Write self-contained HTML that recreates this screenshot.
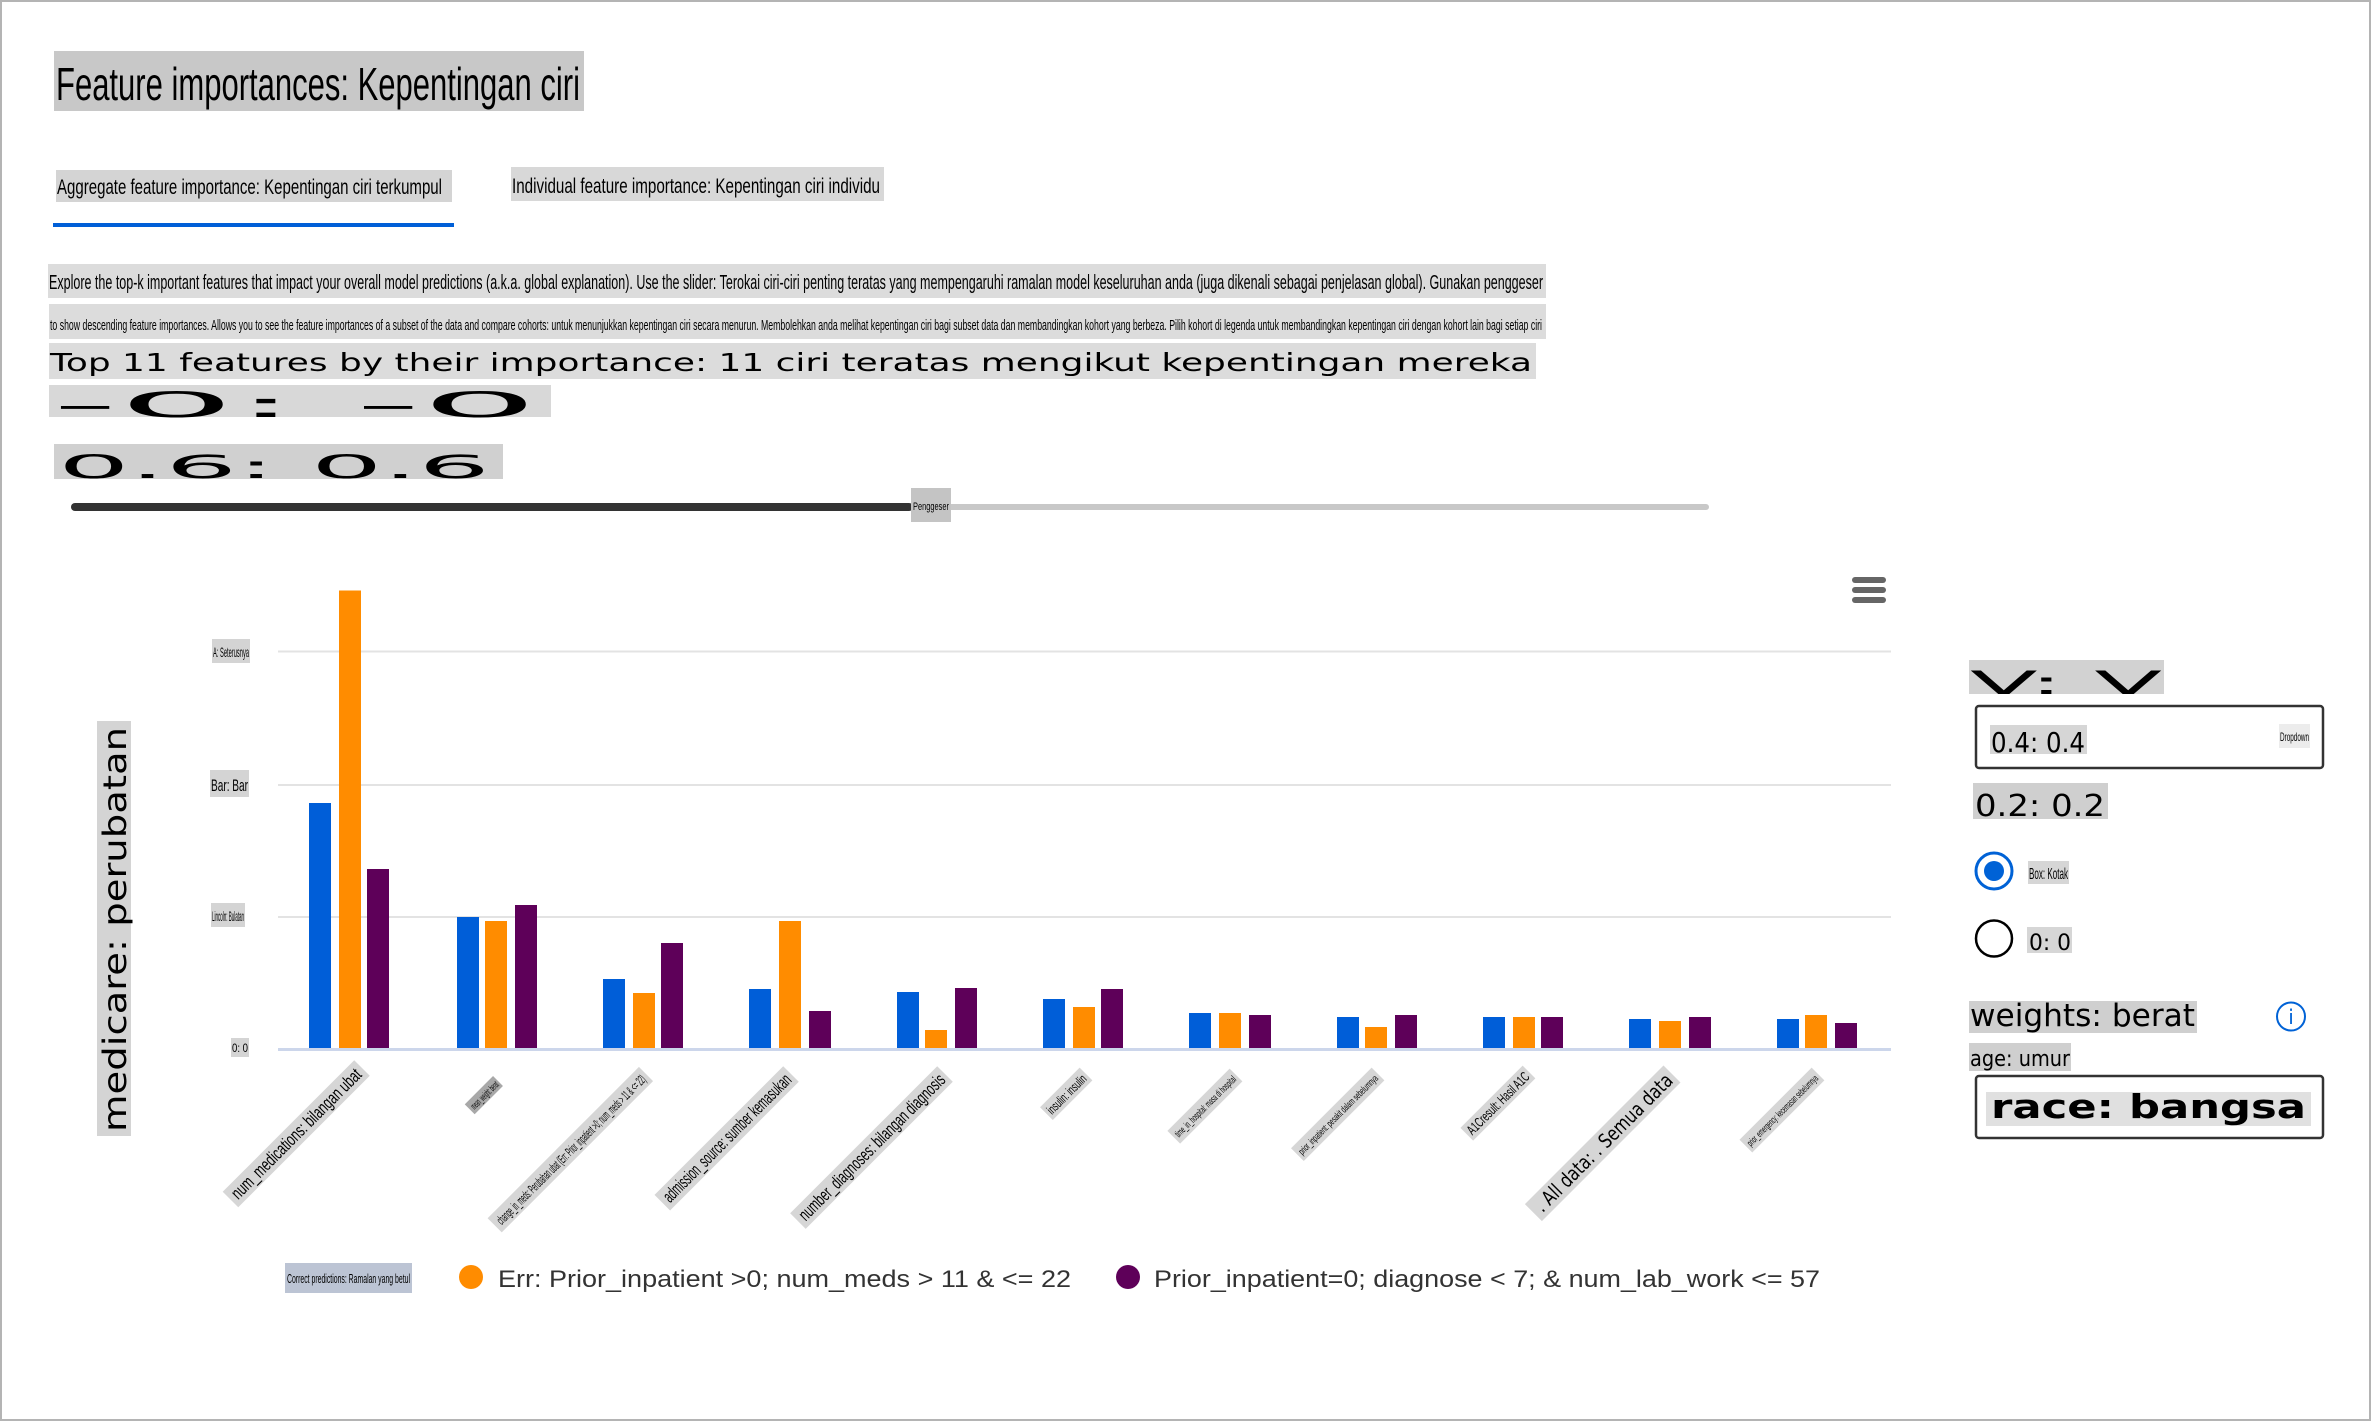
<!DOCTYPE html>
<html><head><meta charset="utf-8"><style>html,body{margin:0;padding:0;background:#fff;overflow:hidden}svg{display:block}
.n{font-family:"Liberation Sans",sans-serif;fill:#000}
.w{font-family:"DejaVu Sans","Liberation Sans",sans-serif;fill:#000}
</style></head><body>
<svg width="2371" height="1421" viewBox="0 0 2371 1421" xmlns="http://www.w3.org/2000/svg">
<rect x="0" y="0" width="2371" height="1421" fill="#fff"/>
<rect x="1" y="1" width="2369" height="1419" fill="none" stroke="#b4b4b4" stroke-width="2"/>

<!-- Title -->
<rect x="54" y="51" width="530" height="60" fill="#c8c8c8"/>
<text class="n" x="56" y="100" font-size="46" textLength="524" lengthAdjust="spacingAndGlyphs">Feature importances: Kepentingan ciri</text>

<!-- Tabs -->
<rect x="56" y="170" width="396" height="32" fill="#d4d4d4"/>
<text class="n" x="57" y="194" font-size="21" textLength="385" lengthAdjust="spacingAndGlyphs">Aggregate feature importance: Kepentingan ciri terkumpul</text>
<rect x="511" y="167" width="373" height="34" fill="#d8d8d8"/>
<text class="n" x="512" y="193" font-size="21" textLength="368" lengthAdjust="spacingAndGlyphs">Individual feature importance: Kepentingan ciri individu</text>
<rect x="53" y="223" width="401" height="4" fill="#005fd7"/>

<!-- Description -->
<rect x="48" y="264" width="1498" height="34" fill="#dcdcdc"/>
<text class="n" x="49" y="289" font-size="20" textLength="1494" lengthAdjust="spacingAndGlyphs">Explore the top-k important features that impact your overall model predictions (a.k.a. global explanation). Use the slider: Terokai ciri-ciri penting teratas yang mempengaruhi ramalan model keseluruhan anda (juga dikenali sebagai penjelasan global). Gunakan penggeser</text>
<rect x="49" y="304" width="1497" height="35" fill="#dcdcdc"/>
<text class="n" x="50" y="330" font-size="15" textLength="1492" lengthAdjust="spacingAndGlyphs">to show descending feature importances. Allows you to see the feature importances of a subset of the data and compare cohorts: untuk menunjukkan kepentingan ciri secara menurun. Membolehkan anda melihat kepentingan ciri bagi subset data dan membandingkan kohort yang berbeza. Pilih kohort di legenda untuk membandingkan kepentingan ciri dengan kohort lain bagi setiap ciri</text>

<!-- Top 11 -->
<rect x="49" y="343" width="1487" height="36" fill="#dcdcdc"/>
<text class="w" x="50" y="371" font-size="25" textLength="1482" lengthAdjust="spacingAndGlyphs">Top 11 features by their importance: 11 ciri teratas mengikut kepentingan mereka</text>

<rect x="49" y="385" width="502" height="32" fill="#d8d8d8"/>
<text class="w" x="52" y="417" font-size="35" textLength="486" lengthAdjust="spacingAndGlyphs">-0: -0</text>

<rect x="54" y="444" width="449" height="35" fill="#d0d0d0"/>
<text class="w" x="58" y="478" font-size="32" textLength="432" lengthAdjust="spacingAndGlyphs">0.6: 0.6</text>

<!-- Slider -->
<rect x="71" y="503" width="842" height="8" rx="4" fill="#333"/>
<rect x="948" y="504" width="761" height="6" rx="3" fill="#c8c8c8"/>
<rect x="911" y="488" width="40" height="34" fill="#c4c4c4"/>
<text class="n" x="913" y="510" font-size="11" textLength="36" lengthAdjust="spacingAndGlyphs">Penggeser</text>

<!-- Y axis title -->
<g transform="translate(126,1136) rotate(-90)">
<rect x="0" y="-29" width="415" height="34" fill="#d4d4d4"/>
<text class="w" x="4" y="0" font-size="32" textLength="405" lengthAdjust="spacingAndGlyphs">medicare: perubatan</text>
</g>

<!-- Y tick labels -->
<rect x="212" y="639" width="38" height="24" fill="#d4d4d4"/>
<text class="n" x="213" y="657" font-size="14" textLength="36" lengthAdjust="spacingAndGlyphs">A: Seterusnya</text>
<rect x="210" y="770" width="39" height="27" fill="#d4d4d4"/>
<text class="n" x="211" y="791" font-size="17" textLength="37" lengthAdjust="spacingAndGlyphs">Bar: Bar</text>
<rect x="211" y="903" width="34" height="24" fill="#d4d4d4"/>
<text class="n" x="212" y="921" font-size="14" textLength="32" lengthAdjust="spacingAndGlyphs">Lincoln: Bulatan</text>
<rect x="231" y="1038" width="18" height="19" fill="#d4d4d4"/>
<text class="n" x="232" y="1052" font-size="12" textLength="16" lengthAdjust="spacingAndGlyphs">0: 0</text>

<!-- Gridlines -->
<g stroke="#e3e3e3" stroke-width="2">
<line x1="278" y1="651.5" x2="1891" y2="651.5"/>
<line x1="278" y1="785" x2="1891" y2="785"/>
<line x1="278" y1="917" x2="1891" y2="917"/>
</g>

<!-- Bars -->
<g fill="#005ed8">
<rect x="309" y="803" width="22" height="245"/>
<rect x="457" y="917" width="22" height="131"/>
<rect x="603" y="979" width="22" height="69"/>
<rect x="749" y="989" width="22" height="59"/>
<rect x="897" y="992" width="22" height="56"/>
<rect x="1043" y="999" width="22" height="49"/>
<rect x="1189" y="1013" width="22" height="35"/>
<rect x="1337" y="1017" width="22" height="31"/>
<rect x="1483" y="1017" width="22" height="31"/>
<rect x="1629" y="1019" width="22" height="29"/>
<rect x="1777" y="1019" width="22" height="29"/>
</g>
<g fill="#ff8c00">
<rect x="339" y="590.5" width="22" height="457.5"/>
<rect x="485" y="921" width="22" height="127"/>
<rect x="633" y="993" width="22" height="55"/>
<rect x="779" y="921" width="22" height="127"/>
<rect x="925" y="1030" width="22" height="18"/>
<rect x="1073" y="1007" width="22" height="41"/>
<rect x="1219" y="1013" width="22" height="35"/>
<rect x="1365" y="1027" width="22" height="21"/>
<rect x="1513" y="1017" width="22" height="31"/>
<rect x="1659" y="1021" width="22" height="27"/>
<rect x="1805" y="1015" width="22" height="33"/>
</g>
<g fill="#5e0059">
<rect x="367" y="869" width="22" height="179"/>
<rect x="515" y="905" width="22" height="143"/>
<rect x="661" y="943" width="22" height="105"/>
<rect x="809" y="1011" width="22" height="37"/>
<rect x="955" y="988" width="22" height="60"/>
<rect x="1101" y="989" width="22" height="59"/>
<rect x="1249" y="1015" width="22" height="33"/>
<rect x="1395" y="1015" width="22" height="33"/>
<rect x="1541" y="1017" width="22" height="31"/>
<rect x="1689" y="1017" width="22" height="31"/>
<rect x="1835" y="1023" width="22" height="25"/>
</g>
<line x1="278" y1="1049.5" x2="1891" y2="1049.5" stroke="#ccd6eb" stroke-width="3"/>

<!-- Hamburger -->
<g fill="#666">
<rect x="1852" y="577" width="34" height="6" rx="3"/>
<rect x="1852" y="587" width="34" height="6" rx="3"/>
<rect x="1852" y="597" width="34" height="6" rx="3"/>
</g>

<!-- X labels -->
<g transform="translate(362,1068) rotate(-45)">
<rect x="-186" y="-11" width="186" height="22" fill="#d6d6d6"/>
<text class="n" x="-5" y="6" text-anchor="end" font-size="18" textLength="176" lengthAdjust="spacingAndGlyphs">num_medications: bilangan ubat</text>
</g>
<g transform="translate(498,1081) rotate(-45)">
<rect x="-40" y="-7" width="40" height="14" fill="#a8a8a8"/>
<text class="n" x="-2" y="4" text-anchor="end" font-size="10" textLength="35" lengthAdjust="spacingAndGlyphs">mean_weight: berat</text>
</g>
<g transform="translate(646,1074) rotate(-45)">
<rect x="-214" y="-10" width="214" height="20" fill="#d6d6d6"/>
<text class="n" x="-4" y="5" text-anchor="end" font-size="13" textLength="205" lengthAdjust="spacingAndGlyphs">change_in_meds: Perubahan ubat (Err: Prior_inpatient &gt;0; num_meds &gt; 11 &amp; &lt;= 22)</text>
</g>
<g transform="translate(791,1074) rotate(-45)">
<rect x="-182" y="-11" width="182" height="22" fill="#d6d6d6"/>
<text class="n" x="-4" y="6" text-anchor="end" font-size="18" textLength="173" lengthAdjust="spacingAndGlyphs">admission_source: sumber kemasukan</text>
</g>
<g transform="translate(945,1074) rotate(-45)">
<rect x="-208" y="-11" width="208" height="22" fill="#d6d6d6"/>
<text class="n" x="-4" y="6" text-anchor="end" font-size="18" textLength="199" lengthAdjust="spacingAndGlyphs">number_diagnoses: bilangan diagnosis</text>
</g>
<g transform="translate(1086,1074) rotate(-45)">
<rect x="-56" y="-9" width="56" height="18" fill="#d6d6d6"/>
<text class="n" x="-3" y="5" text-anchor="end" font-size="13" textLength="50" lengthAdjust="spacingAndGlyphs">insulin: insulin</text>
</g>
<g transform="translate(1236,1075) rotate(-45)">
<rect x="-88" y="-9" width="88" height="18" fill="#d6d6d6"/>
<text class="n" x="-3" y="4" text-anchor="end" font-size="10" textLength="82" lengthAdjust="spacingAndGlyphs">time_in_hospital: masa di hospital</text>
</g>
<g transform="translate(1378,1074) rotate(-45)">
<rect x="-114" y="-9" width="114" height="18" fill="#d6d6d6"/>
<text class="n" x="-3" y="4" text-anchor="end" font-size="10" textLength="108" lengthAdjust="spacingAndGlyphs">prior_inpatient: pesakit dalam sebelumnya</text>
</g>
<g transform="translate(1529,1072) rotate(-45)">
<rect x="-88" y="-9" width="88" height="18" fill="#d6d6d6"/>
<text class="n" x="-3" y="5" text-anchor="end" font-size="14" textLength="82" lengthAdjust="spacingAndGlyphs">A1Cresult: Hasil A1C</text>
</g>
<g transform="translate(1672,1074) rotate(-45)">
<rect x="-196" y="-12" width="196" height="24" fill="#d6d6d6"/>
<text class="w" x="-4" y="7" text-anchor="end" font-size="20" textLength="186" lengthAdjust="spacingAndGlyphs">. All data: . Semua data</text>
</g>
<g transform="translate(1818,1074) rotate(-45)">
<rect x="-102" y="-9" width="102" height="18" fill="#d6d6d6"/>
<text class="n" x="-3" y="4" text-anchor="end" font-size="10" textLength="96" lengthAdjust="spacingAndGlyphs">prior_emergency: kecemasan sebelumnya</text>
</g>

<!-- Legend -->
<rect x="285" y="1263" width="127" height="30" fill="#bcc4d4"/>
<text class="n" x="287" y="1283" font-size="13" textLength="123" lengthAdjust="spacingAndGlyphs">Correct predictions: Ramalan yang betul</text>
<circle cx="471" cy="1277" r="12" fill="#ff8c00"/>
<text x="498" y="1287" font-family="Liberation Sans, sans-serif" font-size="24" fill="#333" textLength="573" lengthAdjust="spacingAndGlyphs">Err: Prior_inpatient &gt;0; num_meds &gt; 11 &amp; &lt;= 22</text>
<circle cx="1128" cy="1277" r="12" fill="#5e0059"/>
<text x="1154" y="1287" font-family="Liberation Sans, sans-serif" font-size="24" fill="#333" textLength="666" lengthAdjust="spacingAndGlyphs">Prior_inpatient=0; diagnose &lt; 7; &amp; num_lab_work &lt;= 57</text>

<!-- Right panel -->
<rect x="1969" y="660" width="195" height="34" fill="#d2d2d2"/>
<text class="w" x="1970" y="694" font-size="32" textLength="192" lengthAdjust="spacingAndGlyphs">V: V</text>

<rect x="1976" y="706" width="347" height="62" rx="3" fill="#fff" stroke="#333" stroke-width="2.5"/>
<rect x="1990" y="725" width="97" height="29" fill="#d6d6d6"/>
<text class="w" x="1991" y="752" font-size="28" textLength="94" lengthAdjust="spacingAndGlyphs">0.4: 0.4</text>
<rect x="2279" y="724" width="31" height="24" fill="#ececec"/>
<text class="n" x="2280" y="741" font-size="12" textLength="29" lengthAdjust="spacingAndGlyphs">Dropdown</text>

<rect x="1973" y="783" width="135" height="36" fill="#cfcfcf"/>
<text class="w" x="1975" y="816" font-size="30" textLength="130" lengthAdjust="spacingAndGlyphs">0.2: 0.2</text>

<circle cx="1994" cy="871" r="18" fill="#fff" stroke="#0062d6" stroke-width="3"/>
<circle cx="1994" cy="871" r="10" fill="#0062d6"/>
<rect x="2028" y="861" width="41" height="23" fill="#d6d6d6"/>
<text class="n" x="2029" y="879" font-size="16" textLength="39" lengthAdjust="spacingAndGlyphs">Box: Kotak</text>

<circle cx="1994" cy="938.5" r="18" fill="#fff" stroke="#000" stroke-width="2.5"/>
<rect x="2027" y="927" width="45" height="26" fill="#d6d6d6"/>
<text class="w" x="2029" y="950" font-size="22" textLength="42" lengthAdjust="spacingAndGlyphs">0: 0</text>

<rect x="1969" y="1001" width="228" height="32" fill="#cfcfcf"/>
<text class="w" x="1970" y="1026" font-size="31" textLength="225" lengthAdjust="spacingAndGlyphs">weights: berat</text>
<circle cx="2291" cy="1016.5" r="14" fill="#fff" stroke="#0062d6" stroke-width="2"/>
<text x="2291" y="1024" text-anchor="middle" font-family="DejaVu Sans, sans-serif" font-size="20" fill="#0062d6">i</text>

<rect x="1969" y="1043" width="102" height="28" fill="#cfcfcf"/>
<text class="w" x="1970" y="1066" font-size="22" textLength="100" lengthAdjust="spacingAndGlyphs">age: umur</text>

<rect x="1976" y="1076" width="347" height="62" rx="3" fill="#fff" stroke="#333" stroke-width="2.5"/>
<rect x="1986" y="1092" width="325" height="34" fill="#e0e0e0"/>
<text class="w" x="1991" y="1118" font-size="33" font-weight="bold" textLength="315" lengthAdjust="spacingAndGlyphs">race: bangsa</text>
</svg>
</body></html>
